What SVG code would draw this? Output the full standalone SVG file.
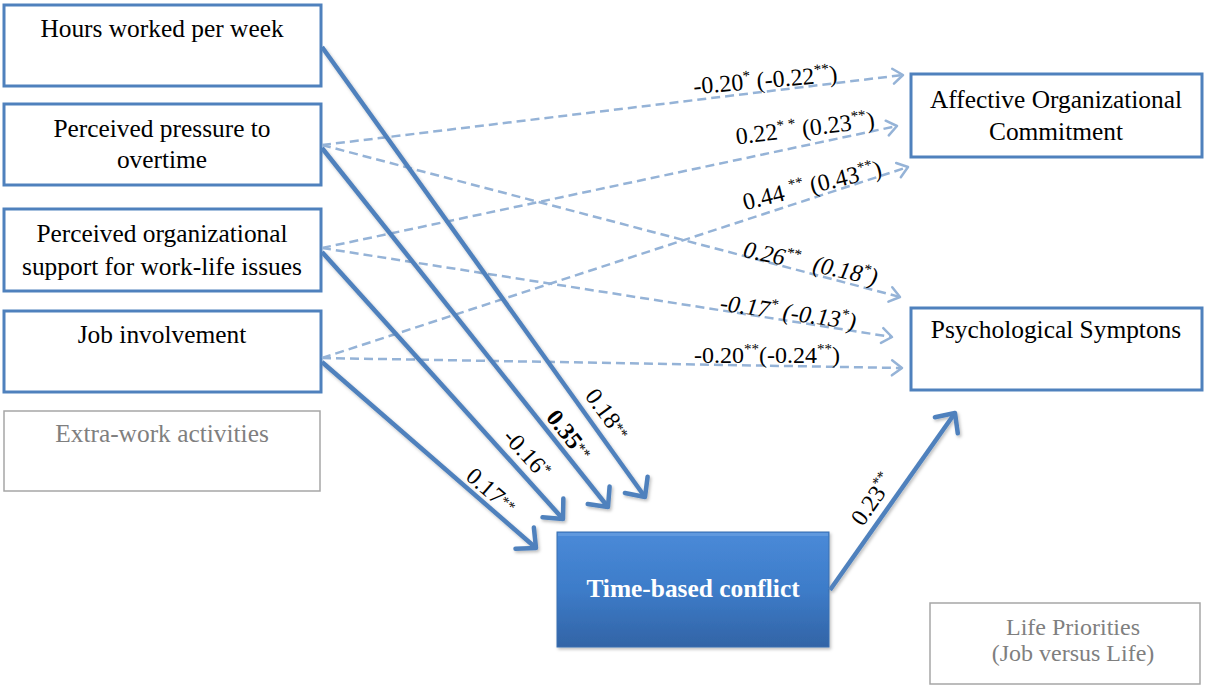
<svg xmlns="http://www.w3.org/2000/svg" width="1211" height="685" viewBox="0 0 1211 685">
  <style>
    .box { fill: #ffffff; stroke: #4f81bd; stroke-width: 3; }
    .gbox { fill: #ffffff; stroke: #a6a6a6; stroke-width: 1.5; }
    text { font-family: "Liberation Serif", "Times New Roman", serif; fill: #000000; }
    .t { font-size: 25.4px; text-anchor: middle; }
    .g { fill: #7f7f7f; }
    .lab { font-size: 24px; text-anchor: middle; }
    .sup { font-size: 15px; }
    .it { font-style: italic; }
    .solid { fill: none; stroke: #4f81bd; stroke-width: 4.5; marker-end: url(#headSolid); filter: url(#shadow); }
    .dash { fill: none; stroke: #95b3d7; stroke-width: 2.5; stroke-dasharray: 9 5; marker-end: url(#headDash); }
  </style>
  <defs>
    <marker id="headSolid" markerUnits="userSpaceOnUse" viewBox="-24 -20 30 40" markerWidth="30" markerHeight="40" refX="0" refY="0" orient="auto" overflow="visible">
      <path d="M-15,-14 L0,0 L-15,14" fill="none" stroke="#4f81bd" stroke-width="4.5" stroke-linecap="round" stroke-linejoin="round"/>
    </marker>
    <marker id="headDash" markerUnits="userSpaceOnUse" viewBox="-16 -12 20 24" markerWidth="20" markerHeight="24" refX="0" refY="0" orient="auto" overflow="visible">
      <path d="M-10,-7.5 L0,0 L-10,7.5" fill="none" stroke="#95b3d7" stroke-width="2.5" stroke-linecap="round" stroke-linejoin="round"/>
    </marker>
    <linearGradient id="tbcFill" x1="0" y1="0" x2="0" y2="1">
      <stop offset="0" stop-color="#4a8ad8"/>
      <stop offset="0.5" stop-color="#3d7cc9"/>
      <stop offset="1" stop-color="#3264a6"/>
    </linearGradient>
    <filter id="shadow" x="-10%" y="-10%" width="130%" height="130%">
      <feDropShadow dx="1.5" dy="2" stdDeviation="1.5" flood-color="#000000" flood-opacity="0.25"/>
    </filter>
  </defs>

  <!-- predictor boxes -->
  <g id="hours">
    <rect class="box" x="4" y="5" width="317" height="81"/>
    <text class="t" x="162" y="37">Hours worked per week</text>
  </g>
  <g id="pressure">
    <rect class="box" x="4" y="104" width="317" height="81"/>
    <text class="t" x="162" y="137">Perceived pressure to</text>
    <text class="t" x="162" y="168">overtime</text>
  </g>
  <g id="support">
    <rect class="box" x="4" y="209" width="317" height="82"/>
    <text class="t" x="162" y="242">Perceived organizational</text>
    <text class="t" x="162" y="275">support for work-life issues</text>
  </g>
  <g id="involvement">
    <rect class="box" x="4" y="311" width="317" height="81"/>
    <text class="t" x="162" y="343">Job involvement</text>
  </g>
  <g id="extrawork">
    <rect class="gbox" x="4" y="411" width="316" height="80"/>
    <text class="t g" x="162" y="442">Extra-work activities</text>
  </g>

  <!-- outcome boxes -->
  <g id="commitment">
    <rect class="box" x="911" y="74" width="291" height="83"/>
    <text class="t" x="1056" y="108">Affective Organizational</text>
    <text class="t" x="1056" y="140">Commitment</text>
  </g>
  <g id="symptoms">
    <rect class="box" x="911" y="308" width="291" height="82"/>
    <text class="t" x="1056" y="338">Psychological Symptons</text>
  </g>
  <g id="priorities">
    <rect class="gbox" x="930" y="603" width="270" height="81"/>
    <text class="t g" x="1073" y="635" style="font-size:24px">Life Priorities</text>
    <text class="t g" x="1073" y="661" style="font-size:24px">(Job versus Life)</text>
  </g>

  <!-- mediator -->
  <g id="conflict">
    <rect x="557" y="532" width="272" height="115" fill="url(#tbcFill)" stroke="#3a6fb0" stroke-width="1" filter="url(#shadow)"/>
    <rect x="558" y="533" width="270" height="3" fill="#6fa3e3" opacity="0.6"/>
    <text class="t" x="693" y="597" style="font-weight:bold;fill:#ffffff">Time-based conflict</text>
  </g>

  <!-- connectors -->
  <g id="connectors">
    <line class="dash" x1="322" y1="145" x2="903" y2="75"/>
    <line class="dash" x1="322" y1="248" x2="897" y2="126"/>
    <line class="dash" x1="322" y1="358" x2="908" y2="167"/>
    <line class="dash" x1="322" y1="145" x2="900" y2="297"/>
    <line class="dash" x1="322" y1="248" x2="892" y2="337"/>
    <line class="dash" x1="322" y1="358" x2="902" y2="368"/>

    <line class="solid" x1="322" y1="47" x2="645" y2="497"/>
    <line class="solid" x1="322" y1="148" x2="608" y2="507"/>
    <line class="solid" x1="322" y1="252" x2="563" y2="519"/>
    <line class="solid" x1="322" y1="362" x2="536" y2="548"/>
    <line class="solid" x1="830" y1="590" x2="955" y2="413"/>
  </g>

  <!-- path coefficients -->
  <g id="labels">
    <text class="lab" transform="translate(766,88) rotate(-5)">-0.20<tspan class="sup" dy="-9">*</tspan><tspan dy="9"> (-0.22</tspan><tspan class="sup" dy="-9">**</tspan><tspan dy="9">)</tspan></text>
    <text class="lab" transform="translate(806,136) rotate(-7)">0.22<tspan class="sup" dy="-9">* *</tspan><tspan dy="9"> (0.23</tspan><tspan class="sup" dy="-9">**</tspan><tspan dy="9">)</tspan></text>
    <text class="lab" transform="translate(814,193) rotate(-14)">0.44 <tspan class="sup" dy="-9">**</tspan><tspan dy="9"> (0.43</tspan><tspan class="sup" dy="-9">**</tspan><tspan dy="9">)</tspan></text>
    <text class="lab it" transform="translate(809,271) rotate(12)">0.26<tspan class="sup" dy="-9">**</tspan><tspan dy="9" dx="8"> (0.18</tspan><tspan class="sup" dy="-9">*</tspan><tspan dy="9">)</tspan></text>
    <text class="lab it" transform="translate(787,320) rotate(8)">-0.17<tspan class="sup" dy="-9">*</tspan><tspan dy="9"> (-0.13</tspan><tspan class="sup" dy="-9">*</tspan><tspan dy="9">)</tspan></text>
    <text class="lab" transform="translate(767,363)">-0.20<tspan class="sup" dy="-9">**</tspan><tspan dy="9">(-0.24</tspan><tspan class="sup" dy="-9">**</tspan><tspan dy="9">)</tspan></text>

    <text class="lab" transform="translate(601,419) rotate(54)">0.18<tspan class="sup" dy="-4">**</tspan></text>
    <text class="lab" transform="translate(563,440) rotate(51.5)"><tspan style="font-weight:bold">0.35</tspan><tspan class="sup" dy="-4">**</tspan></text>
    <text class="lab" transform="translate(521,459) rotate(48)">-0.16<tspan class="sup" dy="-7">*</tspan></text>
    <text class="lab" transform="translate(486,497) rotate(41)">0.17<tspan class="sup" dy="-4">**</tspan></text>
    <text class="lab" transform="translate(879,504) rotate(-55)">0.23<tspan class="sup" dy="-9">**</tspan></text>
  </g>
</svg>
